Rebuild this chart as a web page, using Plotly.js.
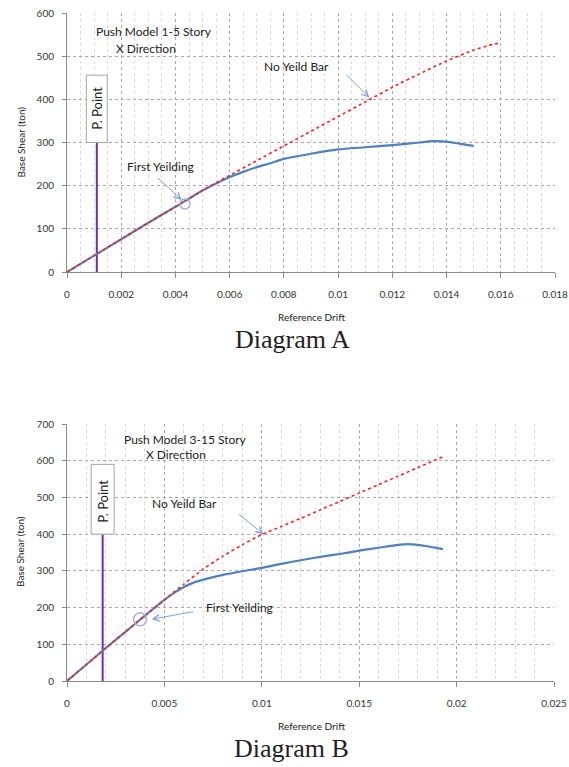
<!DOCTYPE html>
<html><head><meta charset="utf-8">
<script src="https://cdn.plot.ly/plotly-3.0.1.min.js"></script>
<style>html,body{margin:0;padding:0;background:#fff}#chart{width:569px;height:767px}</style>
</head><body><div id="chart"></div>
<script>
// ---------- Diagram A data ----------
const driftA_push = [0, 0.001, 0.002, 0.003, 0.004, 0.005, 0.0055, 0.006, 0.0065, 0.007, 0.0075, 0.008, 0.009, 0.010, 0.011, 0.012, 0.013, 0.0135, 0.014, 0.0145, 0.015];
const shearA_push = [0, 38, 76, 114, 151, 189, 205, 220, 232, 243, 252, 262, 274, 284, 289, 294, 300, 303, 302, 297, 292];
const driftA_noYield = [0, 0.001, 0.002, 0.003, 0.004, 0.005, 0.006, 0.007, 0.008, 0.009, 0.010, 0.011, 0.012, 0.013, 0.014, 0.015, 0.0155, 0.016];
const shearA_noYield = [0, 38, 76, 114, 151, 189, 224, 258, 292, 326, 360, 394, 428, 459, 489, 514, 524, 531];
const pPointA = {drift: 0.0011, shear: 300, boxTop: 456};
const firstYieldA = {drift: 0.00435, shear: 157.5};

// ---------- Diagram B data ----------
const driftB_push = [0, 0.001, 0.002, 0.003, 0.004, 0.005, 0.0055, 0.006, 0.0065, 0.007, 0.008, 0.009, 0.010, 0.011, 0.012, 0.013, 0.014, 0.015, 0.016, 0.017, 0.0175, 0.018, 0.0185, 0.019, 0.0193];
const shearB_push = [0, 45, 90, 134, 178, 221, 240, 256, 268, 276, 289, 299, 308, 319, 329, 338, 346, 355, 363, 371, 373, 371, 367, 362, 359];
const driftB_noYield = [0, 0.001, 0.002, 0.003, 0.004, 0.005, 0.006, 0.007, 0.008, 0.009, 0.010, 0.011, 0.012, 0.013, 0.014, 0.015, 0.016, 0.017, 0.018, 0.0193];
const shearB_noYield = [0, 45, 90, 134, 178, 221, 264, 305, 340, 371, 399, 421, 443, 466, 489, 512, 535, 558, 581, 611];
const pPointB = {drift: 0.00183, shear: 400, boxTop: 590};
const firstYieldB = {drift: 0.00375, shear: 168};

// ---------- Labels ----------
const yTitle = 'Base Shear (ton)';
const xTitle = 'Reference Drift';
const titleA = ['Push Model 1-5 Story', 'X Direction'];
const titleB = ['Push Model 3-15 Story', 'X Direction'];
const pointLabel = 'P. Point';
const noYieldLabel = 'No Yeild Bar';
const firstYieldLabel = 'First Yeilding';
const captionA = 'Diagram A';
const captionB = 'Diagram B';

const W = 569, H = 767;
const pxX = v => v / W;
const pxY = v => 1 - v / H;

const BLUE = '#4f81bd', RED = '#ff2020', PURPLE = '#7030a0', ARROW = '#7f9fcf';
const FONT = 'Lato, "Open Sans", sans-serif';
const SERIF = '"Liberation Serif", "Times New Roman", serif';

const traces = [
  {x: [pPointA.drift, pPointA.drift], y: [0, pPointA.shear], xaxis: 'x', yaxis: 'y', mode: 'lines', line: {color: PURPLE, width: 2}, hoverinfo: 'skip'},
  {x: driftA_push, y: shearA_push, xaxis: 'x', yaxis: 'y', mode: 'lines', line: {color: BLUE, width: 2.2, shape: 'spline', smoothing: 0.6}},
  {x: driftA_noYield, y: shearA_noYield, xaxis: 'x', yaxis: 'y', mode: 'lines', line: {color: RED, width: 1.6, dash: 'dot', shape: 'spline', smoothing: 0.6}},
  {x: [pPointB.drift, pPointB.drift], y: [0, pPointB.shear], xaxis: 'x2', yaxis: 'y2', mode: 'lines', line: {color: PURPLE, width: 2}, hoverinfo: 'skip'},
  {x: driftB_push, y: shearB_push, xaxis: 'x2', yaxis: 'y2', mode: 'lines', line: {color: BLUE, width: 2.2, shape: 'spline', smoothing: 0.6}},
  {x: driftB_noYield, y: shearB_noYield, xaxis: 'x2', yaxis: 'y2', mode: 'lines', line: {color: RED, width: 1.6, dash: 'dot', shape: 'spline', smoothing: 0.6}}
];

function xAx(domain, range, dtick, minorDtick, anchor) {
  return {
    domain: domain, anchor: anchor, range: range, dtick: dtick, tick0: 0,
    showgrid: true, gridcolor: '#a8a8a8', griddash: 'dot', gridwidth: 1,
    minor: {dtick: minorDtick, tick0: 0, showgrid: true, gridcolor: '#dadada', griddash: 'dot', gridwidth: 1},
    showline: true, linecolor: '#8a8a8a', linewidth: 1, zeroline: false,
    ticks: 'outside', ticklen: 5, tickcolor: '#8a8a8a', ticklabelstandoff: 8,
    tickfont: {family: FONT, size: 10, color: '#333'}, fixedrange: true
  };
}
function yAx(domain, range, anchor) {
  return {
    domain: domain, anchor: anchor, range: range, dtick: 100, tick0: 0,
    showgrid: true, gridcolor: '#a8a8a8', griddash: 'dot', gridwidth: 1,
    showline: true, linecolor: '#8a8a8a', linewidth: 1, zeroline: false,
    ticks: 'outside', ticklen: 4, tickcolor: '#8a8a8a', ticklabelstandoff: 6,
    tickfont: {family: FONT, size: 10, color: '#333'}, fixedrange: true
  };
}

function txt(text, x, y, xref, yref, size, extra) {
  return Object.assign({text: text, x: x, y: y, xref: xref, yref: yref, showarrow: false,
    xanchor: 'center', yanchor: 'middle', font: {family: FONT, size: size, color: '#222'}}, extra || {});
}
function arrow(x, y, ax, ay, xref, yref) {
  return {text: '', x: x, y: y, ax: ax, ay: ay, xref: xref, yref: yref, showarrow: true,
    arrowhead: 5, arrowsize: 1.3, arrowwidth: 1, arrowcolor: ARROW, standoff: 0};
}

const annotations = [
  // Diagram A
  txt(titleA[0], 0.00322, 558, 'x', 'y', 12),
  txt(titleA[1], 0.0029, 518, 'x', 'y', 12),
  txt(noYieldLabel, 0.00847, 477, 'x', 'y', 12),
  arrow(0.01115, 404, -24, -24, 'x', 'y'),
  txt(firstYieldLabel, 0.00346, 244, 'x', 'y', 12),
  arrow(0.00423, 167, -25, -23, 'x', 'y'),
  txt(pointLabel, pPointA.drift, 380, 'x', 'y', 13, {textangle: -90}),
  txt(yTitle, pxX(20), pxY(142.5), 'paper', 'paper', 10, {textangle: -90}),
  txt(xTitle, pxX(311), pxY(316.5), 'paper', 'paper', 10),
  txt(captionA, pxX(292), pxY(339), 'paper', 'paper', 26, {font: {family: SERIF, size: 26, color: '#222'}}),
  // Diagram B
  txt(titleB[0], 0.00606, 658, 'x2', 'y2', 12),
  txt(titleB[1], 0.00557, 615.6, 'x2', 'y2', 12),
  txt(noYieldLabel, 0.00602, 484, 'x2', 'y2', 12),
  arrow(0.01008, 400, -26, -21, 'x2', 'y2'),
  txt(firstYieldLabel, 0.00883, 199.6, 'x2', 'y2', 12),
  arrow(0.00435, 168, 43, -8, 'x2', 'y2'),
  txt(pointLabel, pPointB.drift, 490, 'x2', 'y2', 13, {textangle: -90}),
  txt(yTitle, pxX(20), pxY(552), 'paper', 'paper', 10, {textangle: -90}),
  txt(xTitle, pxX(311), pxY(726), 'paper', 'paper', 10),
  txt(captionB, pxX(291), pxY(748.5), 'paper', 'paper', 26, {font: {family: SERIF, size: 26, color: '#222'}})
];

const shapes = [
  {type: 'rect', xref: 'x', yref: 'y', xsizemode: 'pixel', xanchor: pPointA.drift, x0: -10.5, x1: 10.5,
    y0: pPointA.shear, y1: pPointA.boxTop, fillcolor: '#fff', line: {color: '#a6a6a6', width: 1}, layer: 'above'},
  {type: 'circle', xref: 'x', yref: 'y', xsizemode: 'pixel', ysizemode: 'pixel', xanchor: firstYieldA.drift, yanchor: firstYieldA.shear,
    x0: -5, x1: 5, y0: -5, y1: 5, line: {color: '#9fb3d1', width: 1.5}, layer: 'above'},
  {type: 'rect', xref: 'x2', yref: 'y2', xsizemode: 'pixel', xanchor: pPointB.drift, x0: -11.5, x1: 11.5,
    y0: pPointB.shear, y1: pPointB.boxTop, fillcolor: '#fff', line: {color: '#a6a6a6', width: 1}, layer: 'above'},
  {type: 'circle', xref: 'x2', yref: 'y2', xsizemode: 'pixel', ysizemode: 'pixel', xanchor: firstYieldB.drift, yanchor: firstYieldB.shear,
    x0: -6.5, x1: 6.5, y0: -6.5, y1: 6.5, line: {color: '#9fb3d1', width: 1.5}, layer: 'above'}
];

const layout = {
  width: W, height: H, autosize: false,
  margin: {l: 0, r: 0, t: 0, b: 0, pad: 0},
  paper_bgcolor: '#fff', plot_bgcolor: '#fff',
  showlegend: false,
  xaxis: xAx([pxX(67), pxX(555)], [0, 0.018], 0.002, 0.0005, 'y'),
  yaxis: yAx([pxY(272), pxY(13)], [0, 600], 'x'),
  xaxis2: xAx([pxX(67), pxX(554)], [0, 0.025], 0.005, 0.001, 'y2'),
  yaxis2: yAx([pxY(681), pxY(424)], [0, 700], 'x2'),
  annotations: annotations,
  shapes: shapes
};

Plotly.newPlot('chart', traces, layout, {displayModeBar: false, staticPlot: true});
</script>
</body></html>
